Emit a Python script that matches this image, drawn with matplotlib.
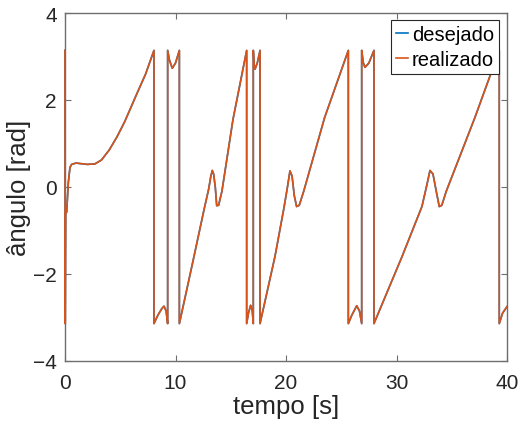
import numpy as np
import matplotlib
matplotlib.use("Agg")
import matplotlib.pyplot as plt

plt.rcParams['font.family'] = ['Liberation Sans', 'DejaVu Sans']

PI = 3.14

# realizado: angle (wraps between -pi and pi)
t_real = [0.0, 0.02, 0.06, 0.15, 0.3, 0.45, 0.6, 1.0, 2.0, 2.7,
          3.3, 4.0, 4.7, 5.4, 6.0, 6.6, 7.3, 8.05,
          8.05, 8.4, 8.75, 8.96, 9.15, 9.29,
          9.29, 9.45, 9.71, 10.0, 10.35,
          10.35, 11.5, 12.6, 13.0, 13.2, 13.33, 13.45, 13.6, 13.73, 13.9, 14.2,
          15.2, 16.44,
          16.44, 16.6, 16.8, 16.95, 17.04,
          17.04, 17.12, 17.2, 17.4, 17.65,
          17.65, 19.0, 19.8, 20.1, 20.36, 20.55, 20.75, 20.96, 21.2, 21.6,
          23.5, 25.64,
          25.64, 25.95, 26.4, 26.65, 26.85,
          26.85, 27.0, 27.15, 27.5, 27.96,
          27.96, 30.5, 32.3, 32.75, 33.03, 33.3, 33.6, 33.87, 34.1, 34.5,
          37.1, 39.3,
          39.3, 39.6, 40.0]
ang_real = [PI, -PI, -0.6, -0.58, 0.1, 0.45, 0.52, 0.55, 0.52, 0.53,
            0.62, 0.85, 1.15, 1.5, 1.85, 2.2, 2.6, PI,
            -PI, -2.95, -2.8, -2.74, -2.85, -PI,
            PI, 2.92, 2.73, 2.85, PI,
            -PI, -1.8, -0.5, -0.05, 0.25, 0.38, 0.3, 0.0, -0.43, -0.42, -0.1,
            1.55, PI,
            -PI, -2.9, -2.72, -2.85, -PI,
            PI, 2.8, 2.71, 2.85, PI,
            -PI, -1.6, -0.5, -0.05, 0.37, 0.25, -0.2, -0.45, -0.42, -0.1,
            1.6, PI,
            -PI, -2.95, -2.73, -2.85, -PI,
            PI, 2.85, 2.75, 2.85, PI,
            -PI, -1.6, -0.45, 0.05, 0.38, 0.3, -0.1, -0.45, -0.42, -0.1,
            1.6, PI,
            -PI, -2.9, -2.75]

# desejado: follows realizado almost exactly (hidden under it)
t_des = list(t_real)
ang_des = list(ang_real)

fig = plt.figure(figsize=(5.23, 4.31), dpi=100)
ax = fig.add_axes([65 / 523, 69 / 431, 442 / 523, 348 / 431])

ax.plot(t_des, ang_des, color='#0072BD', lw=1.2, label='desejado', zorder=3, clip_on=False)
ax.plot(t_real, ang_real, color='#D95319', lw=1.2, label='realizado', zorder=3, clip_on=False)

ax.set_xlim(0, 40)
ax.set_ylim(-4, 4)
ax.set_xticks([0, 10, 20, 30, 40])
ax.set_yticks([-4, -2, 0, 2, 4])
ax.tick_params(direction='in', length=4, width=0.8, top=True, right=True,
               labelsize=15, colors='#6e6e6e', labelcolor='#262626', pad=6)
ax.tick_params(axis='x', pad=9)
for s in ax.spines.values():
    s.set_color('#6e6e6e')
    s.set_linewidth(1.0)

ax.set_xlabel('tempo [s]', fontsize=18.5, color='#262626', labelpad=1)
ax.set_ylabel('ângulo [rad]', fontsize=18.5, color='#262626', labelpad=1)

leg = ax.legend(loc='upper right', bbox_to_anchor=(0.982, 0.98), borderaxespad=0,
                fontsize=14.5, handlelength=0.6, handletextpad=0.2,
                labelspacing=0.3, borderpad=0.25, fancybox=False, framealpha=1)
leg.get_frame().set_edgecolor('#262626')
leg.get_frame().set_linewidth(0.8)
leg.set_zorder(5)

fig.savefig('out.png', dpi=100)
